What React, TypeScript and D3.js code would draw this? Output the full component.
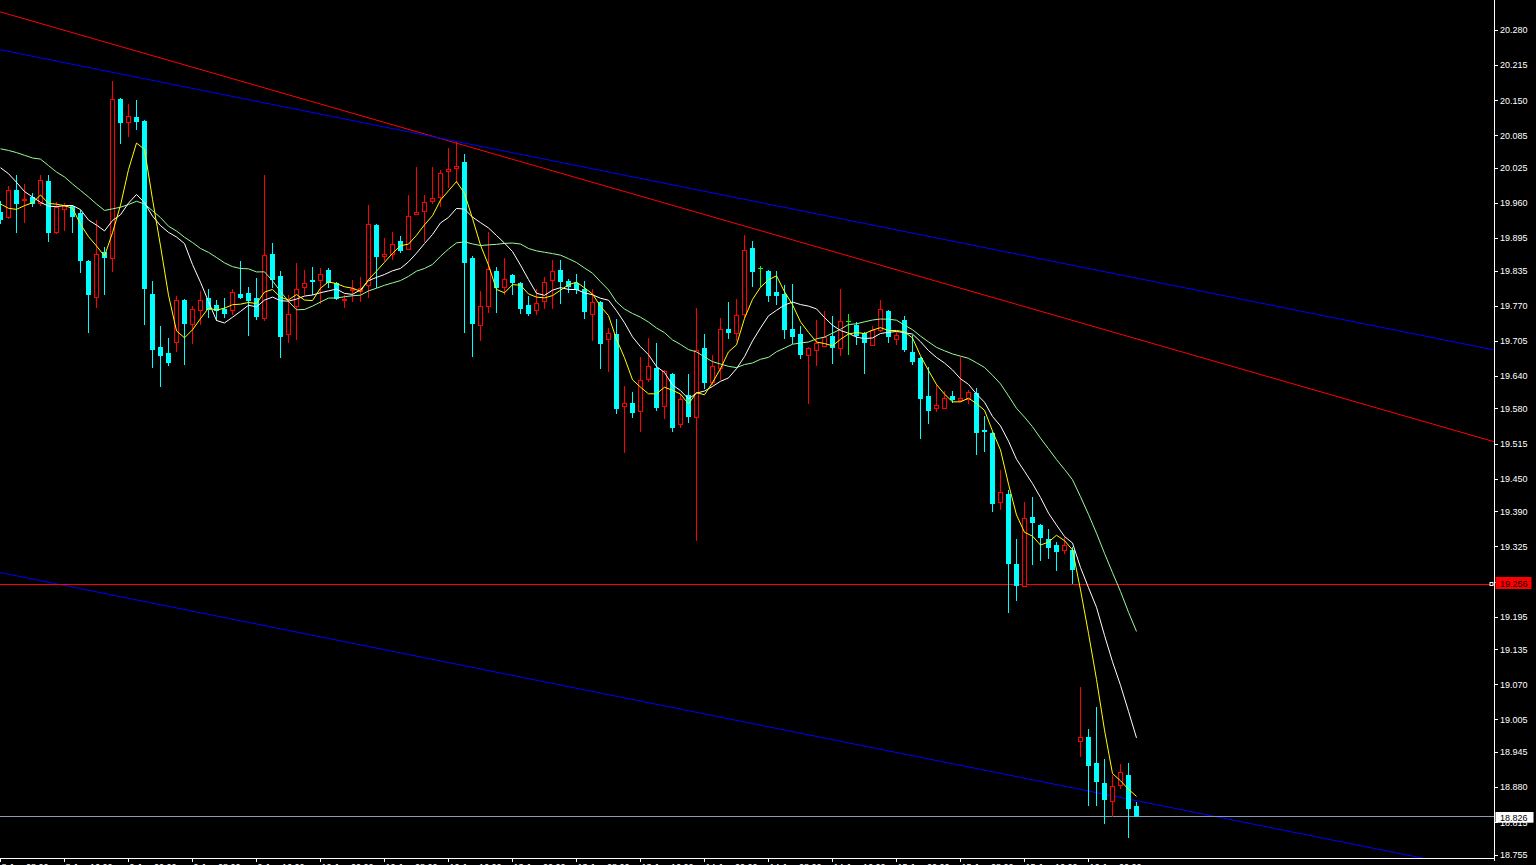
import React from "react";
import * as d3 from "d3";

// ---- OHLC data (one bar per index) ----
const opens = [
  19.944, 19.934, 19.984, 19.965, 19.971, 19.959, 20.001, 19.906, 19.948, 19.954,
  19.942, 19.852, 19.786, 19.870, 19.858, 20.152, 20.110, 20.118, 20.111, 19.792,
  19.693, 19.683, 19.702, 19.781, 19.737, 19.762, 19.785, 19.772, 19.764, 19.762,
  19.792, 19.794, 19.785, 19.748, 19.865, 19.824, 19.718, 19.769, 19.804, 19.818,
  19.817, 19.836, 19.812, 19.781, 19.799, 19.798, 19.809, 19.920, 19.861, 19.865,
  19.890, 19.875, 19.940, 19.945, 19.963, 19.971, 20.019, 20.024, 20.035, 19.859,
  19.735, 19.769, 19.835, 19.804, 19.826, 19.812, 19.772, 19.762, 19.778, 19.817,
  19.836, 19.815, 19.812, 19.801, 19.755, 19.777, 19.709, 19.717, 19.584, 19.590,
  19.575, 19.635, 19.655, 19.584, 19.644, 19.552, 19.604, 19.564, 19.691, 19.629,
  19.655, 19.726, 19.720, 19.755, 19.877, 19.839, 19.835, 19.795, 19.792, 19.726,
  19.718, 19.678, 19.688, 19.696, 19.714, 19.692, 19.741, 19.735, 19.720, 19.698,
  19.725, 19.761, 19.709, 19.744, 19.684, 19.674, 19.603, 19.581, 19.581, 19.603,
  19.595, 19.598, 19.609, 19.541, 19.535, 19.407, 19.421, 19.292, 19.252, 19.380,
  19.365, 19.339, 19.328, 19.318, 19.319, 18.965, 18.972, 18.925, 18.887, 18.854,
  18.883, 18.902, 18.845,
];
const highs = [
  19.964, 19.992, 20.011, 19.995, 19.978, 20.011, 20.011, 19.961, 19.960, 19.957,
  19.946, 19.854, 19.929, 19.878, 20.186, 20.153, 20.143, 20.151, 20.114, 19.815,
  19.733, 19.711, 19.787, 19.782, 19.770, 19.798, 19.801, 19.780, 19.785, 19.800,
  19.852, 19.804, 19.822, 20.011, 19.886, 19.835, 19.789, 19.849, 19.836, 19.842,
  19.839, 19.839, 19.813, 19.789, 19.817, 19.823, 19.957, 19.921, 19.895, 19.907,
  19.898, 19.974, 20.026, 19.974, 20.027, 20.021, 20.062, 20.072, 20.051, 19.861,
  19.798, 19.907, 19.841, 19.858, 19.829, 19.813, 19.787, 19.801, 19.823, 19.854,
  19.854, 19.820, 19.829, 19.815, 19.801, 19.779, 19.728, 19.746, 19.621, 19.611,
  19.675, 19.710, 19.701, 19.651, 19.645, 19.607, 19.643, 19.766, 19.717, 19.678,
  19.747, 19.777, 19.783, 19.900, 19.890, 19.844, 19.836, 19.835, 19.809, 19.810,
  19.732, 19.693, 19.743, 19.761, 19.750, 19.800, 19.755, 19.740, 19.721, 19.732,
  19.780, 19.762, 19.721, 19.750, 19.715, 19.675, 19.657, 19.626, 19.613, 19.613,
  19.676, 19.614, 19.618, 19.566, 19.536, 19.467, 19.430, 19.339, 19.407, 19.417,
  19.366, 19.358, 19.333, 19.342, 19.323, 19.065, 18.988, 19.028, 18.931, 18.902,
  18.923, 18.925, 18.853,
];
const lows = [
  19.922, 19.932, 19.906, 19.924, 19.954, 19.957, 19.890, 19.905, 19.909, 19.906,
  19.832, 19.721, 19.767, 19.792, 19.835, 20.070, 20.083, 20.097, 19.736, 19.656,
  19.621, 19.661, 19.687, 19.663, 19.701, 19.737, 19.749, 19.743, 19.749, 19.755,
  19.785, 19.715, 19.746, 19.743, 19.804, 19.675, 19.702, 19.709, 19.792, 19.792,
  19.775, 19.804, 19.783, 19.767, 19.778, 19.778, 19.786, 19.804, 19.854, 19.857,
  19.869, 19.874, 19.939, 19.889, 19.959, 19.955, 19.989, 19.998, 19.721, 19.677,
  19.706, 19.758, 19.758, 19.792, 19.792, 19.756, 19.752, 19.755, 19.766, 19.766,
  19.775, 19.795, 19.793, 19.747, 19.706, 19.654, 19.649, 19.571, 19.499, 19.564,
  19.538, 19.630, 19.578, 19.562, 19.539, 19.545, 19.555, 19.336, 19.618, 19.626,
  19.635, 19.710, 19.707, 19.749, 19.807, 19.806, 19.778, 19.773, 19.710, 19.701,
  19.674, 19.590, 19.661, 19.695, 19.664, 19.678, 19.681, 19.700, 19.645, 19.697,
  19.724, 19.702, 19.700, 19.686, 19.662, 19.526, 19.553, 19.576, 19.580, 19.592,
  19.594, 19.590, 19.495, 19.502, 19.391, 19.395, 19.203, 19.226, 19.251, 19.292,
  19.300, 19.303, 19.282, 19.312, 19.258, 18.937, 18.847, 18.847, 18.813, 18.827,
  18.878, 18.788, 18.826,
];
const closes = [
  19.931, 19.984, 19.959, 19.968, 19.959, 20.003, 19.906, 19.952, 19.954, 19.936,
  19.855, 19.791, 19.866, 19.860, 20.152, 20.109, 20.121, 20.111, 19.802, 19.690,
  19.678, 19.666, 19.781, 19.738, 19.764, 19.781, 19.764, 19.762, 19.756, 19.796,
  19.786, 19.780, 19.751, 19.863, 19.820, 19.714, 19.755, 19.801, 19.812, 19.815,
  19.829, 19.813, 19.785, 19.783, 19.801, 19.802, 19.921, 19.862, 19.865, 19.884,
  19.872, 19.936, 19.944, 19.961, 19.969, 20.016, 20.022, 20.029, 19.851, 19.738,
  19.769, 19.838, 19.804, 19.820, 19.813, 19.765, 19.756, 19.775, 19.813, 19.834,
  19.815, 19.806, 19.800, 19.760, 19.777, 19.701, 19.720, 19.581, 19.590, 19.573,
  19.633, 19.658, 19.582, 19.650, 19.545, 19.598, 19.566, 19.688, 19.629, 19.658,
  19.727, 19.721, 19.753, 19.873, 19.834, 19.839, 19.790, 19.790, 19.726, 19.714,
  19.681, 19.692, 19.701, 19.712, 19.693, 19.741, 19.741, 19.715, 19.702, 19.725,
  19.764, 19.714, 19.716, 19.689, 19.668, 19.600, 19.577, 19.587, 19.600, 19.597,
  19.600, 19.611, 19.537, 19.538, 19.405, 19.425, 19.295, 19.253, 19.377, 19.370,
  19.342, 19.323, 19.316, 19.327, 19.284, 18.973, 18.921, 18.891, 18.858, 18.882,
  18.907, 18.841, 18.826,
];

// ---- moving averages: periods, and the first values (history before the window) ----
const fastPeriod = 5;
const midPeriod = 10;
const slowPeriod = 20;
const fastStart = [19.958, 19.95, 19.948, 19.955];
const midStart = [20.025, 20.014, 19.998, 19.981, 19.971, 19.961, 19.954, 19.953, 19.955];
const slowStart = [20.06, 20.057, 20.053, 20.048, 20.043, 20.041, 20.029, 20.017, 20.008, 19.995, 19.983, 19.971, 19.958, 19.946, 19.949, 19.952, 19.957, 19.963, 19.958];

// ---- trend lines: [bar, price] anchors ----
const redTrend = [[0, 20.313], [180, 19.547]];
const blueUpper = [[0, 20.243], [180, 19.708]];
const blueLower = [[0, 19.2765], [180, 18.742]];
const levelLine = 19.256;
const bidLine = 18.826;

// ---- axis labels ----
const priceTicks = [
  20.28, 20.215, 20.15, 20.085, 20.025, 19.96, 19.895, 19.835, 19.77, 19.705, 19.64, 19.58,
  19.515, 19.45, 19.39, 19.325, 19.26, 19.195, 19.135, 19.07, 19.005, 18.945, 18.88, 18.815, 18.755,
];
const timeLabels = [
  "8 Jun 08:00", "8 Jun 16:00", "9 Jun 00:00", "9 Jun 08:00", "9 Jun 16:00", "10 Jun 00:00",
  "10 Jun 08:00", "10 Jun 16:00", "13 Jun 00:00", "13 Jun 08:00", "13 Jun 16:00", "14 Jun 00:00",
  "14 Jun 08:00", "14 Jun 16:00", "15 Jun 00:00", "15 Jun 08:00", "15 Jun 16:00", "16 Jun 00:00",
];
const barsPerLabel = 8;

const W = 1536;
const H = 865;
const PR = 1494; // plot right
const PB = 858; // plot bottom
const FONT = "'Liberation Sans', Arial, sans-serif";

export default function App() {
  const x = d3.scaleLinear().domain([0, 1]).range([0.5, 8.5]);
  const y = d3.scaleLinear().domain([20.28, 18.755]).range([29.8, 854.7]);
  const py = (v: number) => Math.round(y(v)) + 0.5;

  const sma = (period: number, start: number[]) =>
    closes.map((_, i) => (i < period - 1 ? start[i] : (d3.mean(closes.slice(i - period + 1, i + 1)) as number)));
  const fast = sma(fastPeriod, fastStart);
  const mid = sma(midPeriod, midStart);
  const slow = sma(slowPeriod, slowStart);

  const line = d3
    .line<number>()
    .x((_, i) => x(i))
    .y((v) => y(v));

  const trend = (a: number[][]) => {
    const [[b0, p0], [b1, p1]] = a;
    const bl = x.invert(0);
    const br = x.invert(PR);
    const f = (b: number) => p0 + ((p1 - p0) * (b - b0)) / (b1 - b0);
    return { x1: 0, y1: y(f(bl)), x2: PR, y2: y(f(br)) };
  };

  const candles = closes.map((c, i) => {
    const o = opens[i];
    const cx = Math.floor(x(i));
    const wx = cx + 0.5;
    const yh = Math.round(y(highs[i]));
    const yl = Math.round(y(lows[i]));
    const yo = Math.round(y(o));
    const yc = Math.round(y(c));
    const top = Math.min(yo, yc);
    const bot = Math.max(yo, yc);
    if (c === o) {
      return (
        <g key={i} stroke="#00ff00" strokeWidth={1}>
          <line x1={wx} x2={wx} y1={yh} y2={yl + 1} />
          <line x1={cx - 2} x2={cx + 3} y1={yo + 0.5} y2={yo + 0.5} />
        </g>
      );
    }
    if (c > o) {
      return (
        <g key={i}>
          <line x1={wx} x2={wx} y1={yh} y2={yl + 1} stroke="#ff0000" />
          <rect x={cx - 1.5} y={top + 0.5} width={4} height={Math.max(bot - top, 1)} fill="#000" stroke="#ff0000" />
        </g>
      );
    }
    return (
      <g key={i}>
        <line x1={wx} x2={wx} y1={yh} y2={yl + 1} stroke="#00ffff" />
        <rect x={cx - 2} y={top} width={5} height={Math.max(bot - top + 1, 1)} fill="#00ffff" />
      </g>
    );
  });

  const tr = [
    { d: trend(redTrend), c: "#ff0000" },
    { d: trend(blueUpper), c: "#0000ff" },
    { d: trend(blueLower), c: "#0000ff" },
  ];

  const levelY = Math.round(y(levelLine));

  return (
    <svg
      width={W}
      height={H}
      style={{ position: "fixed", left: 0, top: 0, background: "#000", display: "block" }}
      fontFamily={FONT}
    >
      <defs>
        <clipPath id="plot">
          <rect x={0} y={0} width={PR} height={PB} />
        </clipPath>
      </defs>
      <rect x={0} y={0} width={W} height={H} fill="#000" />
      <g clipPath="url(#plot)">
        {tr.map((t, i) => (
          <line key={i} {...t.d} stroke={t.c} strokeWidth={1} />
        ))}
        <rect x={0} y={levelY} width={PR} height={1} fill="#ff0000" />
        <rect x={0} y={Math.round(y(bidLine))} width={PR} height={1} fill="#8e9aae" />
        <g shapeRendering="crispEdges">{candles}</g>
        <path d={line(slow) || ""} fill="none" stroke="#98fb98" strokeWidth={1} />
        <path d={line(mid) || ""} fill="none" stroke="#ffffff" strokeWidth={1} />
        <path d={line(fast) || ""} fill="none" stroke="#ffff00" strokeWidth={1} />
      </g>
      {/* axes */}
      <g shapeRendering="crispEdges" stroke="#ffffff">
        <line x1={PR + 0.5} x2={PR + 0.5} y1={0} y2={PB + 3} />
        <line x1={0} x2={PR + 1} y1={PB + 0.5} y2={PB + 0.5} />
      </g>
      <g fill="#ffffff" fontSize={9}>
        {priceTicks.map((t) => (
          <g key={t}>
            <line x1={PR} x2={PR + 4} y1={py(t)} y2={py(t)} stroke="#fff" shapeRendering="crispEdges" />
            <text x={PR + 6} y={y(t) + 3.4}>
              {t.toFixed(3)}
            </text>
          </g>
        ))}
        {timeLabels.map((l, j) => {
          const tx = Math.floor(x(j * barsPerLabel)) + 0.5;
          return (
            <g key={l}>
              <line x1={tx} x2={tx} y1={PB} y2={PB + 4} stroke="#fff" shapeRendering="crispEdges" />
              <text x={tx + 1} y={PB + 12}>
                {l}
              </text>
            </g>
          );
        })}
      </g>
      {/* level marker and price boxes */}
      <rect x={PR - 4} y={levelY - 1.5} width={3} height={3} fill="#000" stroke="#fff" />
      <rect x={PR + 1.5} y={577} width={36} height={12} fill="#ff0000" />
      <text x={PR + 6} y={586.5} fontSize={9} fill="#000">
        {levelLine.toFixed(3)}
      </text>
      <rect x={PR + 1.5} y={812} width={38} height={10.7} fill="#ffffff" />
      <text x={PR + 6} y={820.5} fontSize={9} fill="#000">
        {bidLine.toFixed(3)}
      </text>
    </svg>
  );
}
